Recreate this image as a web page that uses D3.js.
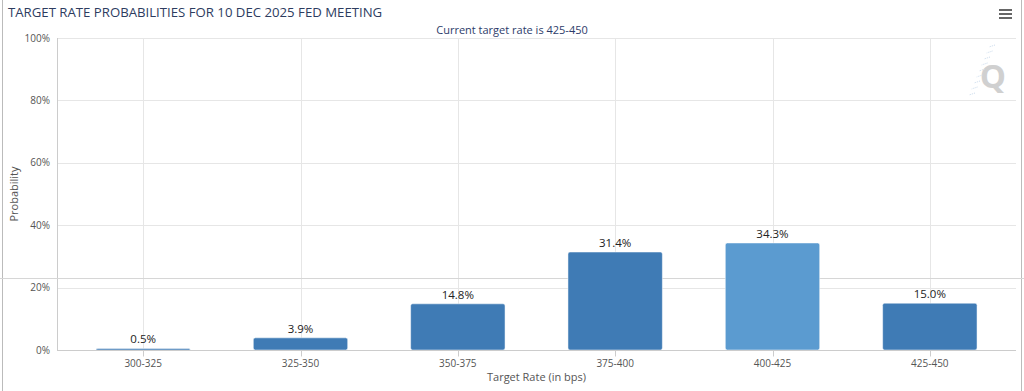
<!DOCTYPE html>
<html>
<head>
<meta charset="utf-8">
<script src="https://cdn.jsdelivr.net/npm/d3@7"></script>
<style>
  body { margin: 0; background: #fff; }
  svg text { font-family: "Open Sans", "DejaVu Sans", sans-serif; }
</style>
</head>
<body>
<div id="chart"></div>
<script>
// data
var categories = ["300-325", "325-350", "350-375", "375-400", "400-425", "425-450"];
var probabilities = [0.5, 3.9, 14.8, 31.4, 34.3, 15.0];
var currentRate = "425-450";
var highlighted = "400-425";
var yTicks = [0, 20, 40, 60, 80, 100];

var width = 1024, height = 391;
var plot = { left: 57, right: 1016, top: 38, bottom: 350 };

var svg = d3.select("#chart")
  .append("svg")
  .attr("width", width)
  .attr("height", height);

// frame lines of the screenshot
svg.append("line").attr("x1", 2.5).attr("x2", 2.5).attr("y1", 0).attr("y2", height)
  .attr("stroke", "#bbb");
svg.append("line").attr("x1", 1021.5).attr("x2", 1021.5).attr("y1", 0).attr("y2", height)
  .attr("stroke", "#bbb");

var x = d3.scaleBand()
  .domain(categories)
  .range([plot.left + 7.5, plot.right - 7.5])
  .paddingInner(0.4)
  .paddingOuter(0.2);

var y = d3.scaleLinear()
  .domain([0, 100])
  .range([plot.bottom, plot.top]);

// horizontal grid
svg.append("g")
  .selectAll("line")
  .data(yTicks.slice(1))
  .enter()
  .append("line")
  .attr("x1", plot.left)
  .attr("x2", plot.right)
  .attr("y1", function(d) { return Math.round(y(d)) + 0.5; })
  .attr("y2", function(d) { return Math.round(y(d)) + 0.5; })
  .attr("stroke", "#e6e6e6");

// vertical grid at category centres
svg.append("g")
  .selectAll("line")
  .data(categories)
  .enter()
  .append("line")
  .attr("x1", function(d) { return Math.round(x(d) + x.bandwidth() / 2) + 0.5; })
  .attr("x2", function(d) { return Math.round(x(d) + x.bandwidth() / 2) + 0.5; })
  .attr("y1", plot.top)
  .attr("y2", plot.bottom)
  .attr("stroke", "#e6e6e6");

// y axis line
svg.append("line")
  .attr("x1", plot.left + 0.5).attr("x2", plot.left + 0.5)
  .attr("y1", plot.top).attr("y2", plot.bottom)
  .attr("stroke", "#ccc");

// stray overlay line seen in the screenshot
svg.append("line")
  .attr("x1", 0).attr("x2", width)
  .attr("y1", 278.5).attr("y2", 278.5)
  .attr("stroke", "#d6d6d6");

// bars
svg.append("g")
  .selectAll("rect")
  .data(categories)
  .enter()
  .append("rect")
  .attr("x", function(d) { return x(d); })
  .attr("width", x.bandwidth())
  .attr("y", function(d, i) { return y(probabilities[i]); })
  .attr("height", function(d, i) { return plot.bottom - y(probabilities[i]); })
  .attr("rx", 2)
  .attr("fill", function(d) { return d === highlighted ? "#5b9bd0" : "#3f7bb5"; })
  .attr("stroke", "#fff")
  .attr("stroke-width", 0.5);

// value labels
svg.append("g")
  .selectAll("text")
  .data(categories)
  .enter()
  .append("text")
  .attr("x", function(d) { return x(d) + x.bandwidth() / 2; })
  .attr("y", function(d, i) { return y(probabilities[i]) - 5; })
  .attr("text-anchor", "middle")
  .attr("font-size", 11.5)
  .attr("fill", "#222")
  .text(function(d, i) { return probabilities[i].toFixed(1) + "%"; });

// x axis
var xAxis = svg.append("g")
  .attr("transform", "translate(0," + (plot.bottom + 0.5) + ")");
xAxis.append("line")
  .attr("x1", plot.left).attr("x2", plot.right)
  .attr("stroke", "#ccc");
xAxis.selectAll(".tick")
  .data(categories)
  .enter()
  .append("line")
  .attr("x1", function(d) { return Math.round(x(d) + x.bandwidth() / 2) + 0.5; })
  .attr("x2", function(d) { return Math.round(x(d) + x.bandwidth() / 2) + 0.5; })
  .attr("y1", 0).attr("y2", 6)
  .attr("stroke", "#ccc");
xAxis.selectAll("text")
  .data(categories)
  .enter()
  .append("text")
  .attr("x", function(d) { return x(d) + x.bandwidth() / 2; })
  .attr("y", 16)
  .attr("text-anchor", "middle")
  .attr("font-size", 10)
  .attr("fill", "#555")
  .text(function(d) { return d; });

// y tick labels
svg.append("g")
  .selectAll("text")
  .data(yTicks)
  .enter()
  .append("text")
  .attr("x", plot.left - 7)
  .attr("y", function(d) { return y(d) + 3.5; })
  .attr("text-anchor", "end")
  .attr("font-size", 10)
  .attr("fill", "#555")
  .text(function(d) { return d + "%"; });

// axis titles
svg.append("text")
  .attr("x", (plot.left + plot.right) / 2)
  .attr("y", 381)
  .attr("text-anchor", "middle")
  .attr("font-size", 11)
  .attr("fill", "#555")
  .text("Target Rate (in bps)");

svg.append("text")
  .attr("transform", "translate(18," + ((plot.top + plot.bottom) / 2) + ") rotate(-90)")
  .attr("text-anchor", "middle")
  .attr("font-size", 11)
  .attr("fill", "#555")
  .text("Probability");

// title and subtitle
svg.append("text")
  .attr("x", 8)
  .attr("y", 17)
  .attr("font-size", 13.2)
  .attr("fill", "#2d3c5f")
  .text("TARGET RATE PROBABILITIES FOR 10 DEC 2025 FED MEETING");

svg.append("text")
  .attr("x", width / 2)
  .attr("y", 34)
  .attr("text-anchor", "middle")
  .attr("font-size", 11)
  .attr("fill", "#2d3c6a")
  .text("Current target rate is " + currentRate);

// menu icon
svg.append("g")
  .selectAll("rect")
  .data([0, 1, 2])
  .enter()
  .append("rect")
  .attr("x", 999)
  .attr("y", function(d) { return 9 + d * 4; })
  .attr("width", 13)
  .attr("height", 2)
  .attr("fill", "#666");

// watermark
var mark = svg.append("g").attr("opacity", 0.45);
mark.append("text")
  .attr("x", 993)
  .attr("y", 88)
  .attr("text-anchor", "middle")
  .attr("font-size", 33)
  .attr("font-weight", "bold")
  .attr("fill", "#999")
  .text("Q");
mark.selectAll("line")
  .data([0, 1, 2, 3, 4, 5, 6, 7, 8])
  .enter()
  .append("line")
  .attr("x1", function(d) { return 995 - d * 2.5; })
  .attr("x2", function(d) { return 989 - d * 2.5; })
  .attr("y1", function(d) { return 45 + d * 6; })
  .attr("y2", function(d) { return 47 + d * 6; })
  .attr("stroke", "#8fb3d9")
  .attr("stroke-width", 1)
  .attr("stroke-dasharray", "1,1");
</script>
</body>
</html>
